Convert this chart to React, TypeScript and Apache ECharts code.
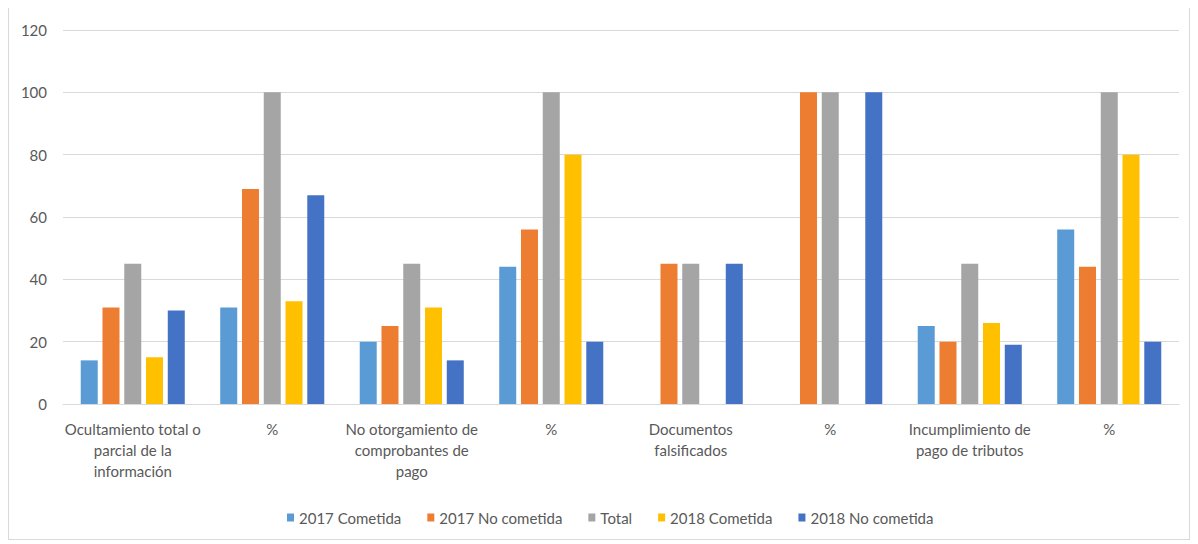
import React, { useEffect, useRef } from "react";
import * as echarts from "echarts";

const categories = [
  "Ocultamiento total o\nparcial de la\ninformación",
  "%",
  "No otorgamiento de\ncomprobantes de\npago",
  "%",
  "Documentos\nfalsificados",
  "%",
  "Incumplimiento de\npago de tributos",
  "%",
];

const seriesNames = ["2017 Cometida", "2017 No cometida", "Total", "2018 Cometida", "2018 No cometida"];
const colors = ["#5b9bd5", "#ed7d31", "#a5a5a5", "#ffc000", "#4472c4"];

const cometida2017 = [14, 31, 20, 44, 0, 0, 25, 56];
const noCometida2017 = [31, 69, 25, 56, 45, 100, 20, 44];
const total = [45, 100, 45, 100, 45, 100, 45, 100];
const cometida2018 = [15, 33, 31, 80, 0, 0, 26, 80];
const noCometida2018 = [30, 67, 14, 20, 45, 100, 19, 20];

const seriesData = [cometida2017, noCometida2017, total, cometida2018, noCometida2018];

const yTicks = { min: 0, max: 120, interval: 20 };

export default function App() {
  const ref = useRef<HTMLDivElement>(null);
  useEffect(() => {
    if (!ref.current) return;
    const chart = echarts.init(ref.current, null, { renderer: "svg" });
    const font = "Lato";
    chart.setOption({
      animation: false,
      backgroundColor: "#ffffff",
      textStyle: { fontFamily: font },
      grid: { left: 54, right: 10, top: 23, bottom: 135, containLabel: false },
      legend: {
        data: seriesNames,
        top: 498,
        left: 273,
        itemWidth: 7,
        itemHeight: 8,
        itemGap: 26,
        icon: "rect",
        textStyle: { color: "#595959", fontSize: 15, fontFamily: font },
      },
      xAxis: {
        type: "category",
        data: categories,
        axisLine: { show: true, lineStyle: { color: "#d9d9d9", width: 1 } },
        axisTick: { show: false },
        axisLabel: {
          color: "#595959",
          fontSize: 15,
          lineHeight: 21,
          margin: 14,
          interval: 0,
          fontFamily: font,
        },
      },
      yAxis: {
        type: "value",
        min: yTicks.min,
        max: yTicks.max,
        interval: yTicks.interval,
        axisLine: { show: false },
        axisTick: { show: false },
        axisLabel: { color: "#595959", fontSize: 15, margin: 16, fontFamily: font },
        splitLine: { lineStyle: { color: "#d9d9d9", width: 1 } },
      },
      series: seriesNames.map((name, i) => ({
        name,
        type: "bar",
        data: seriesData[i],
        barWidth: 17,
        barGap: "28%",
        itemStyle: { color: colors[i] },
      })),
    });
    return () => chart.dispose();
  }, []);
  return (
    <div
      ref={ref}
      style={{
        width: 1182,
        height: 534,
        marginTop: -2,
        border: "1px solid #d9d9d9",
        boxSizing: "border-box",
      }}
    />
  );
}
